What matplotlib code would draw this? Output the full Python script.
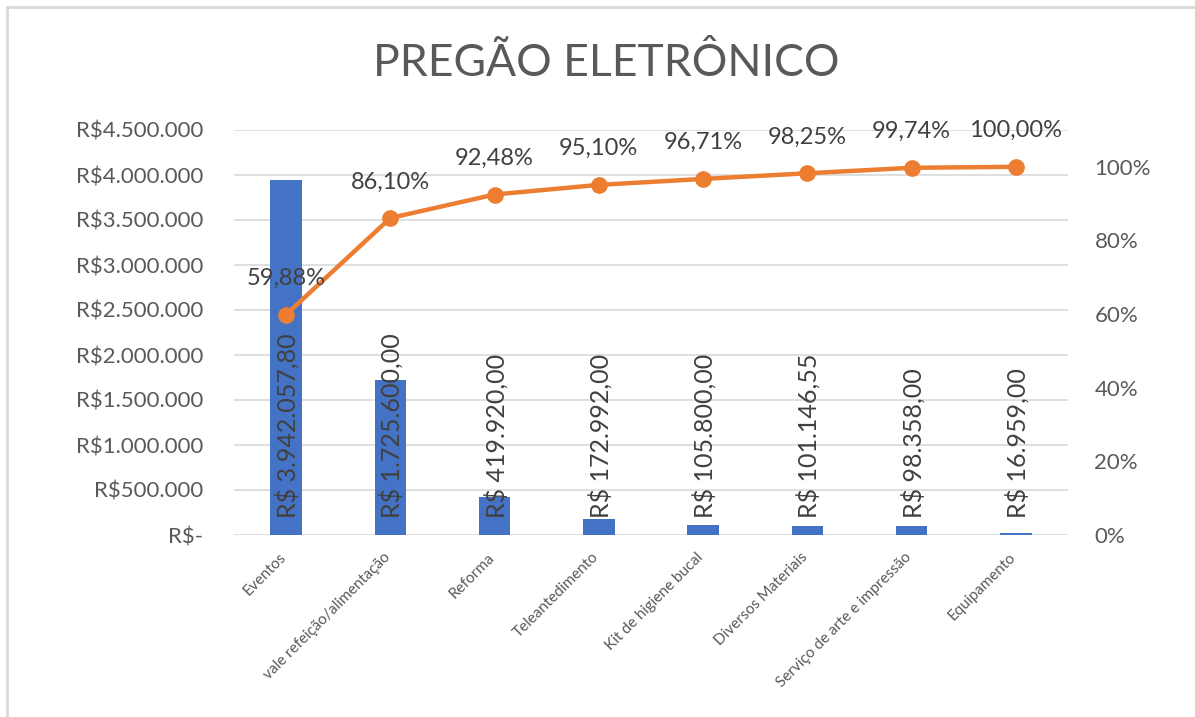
import matplotlib
matplotlib.use("Agg")
import matplotlib.pyplot as plt
from matplotlib.ticker import FuncFormatter, MultipleLocator
from matplotlib.lines import Line2D
from matplotlib.transforms import ScaledTranslation

categories = ["Eventos", "vale refeição/alimentação", "Reforma", "Teleantedimento",
              "Kit de higiene bucal", "Diversos Materiais", "Serviço de arte e impressão",
              "Equipamento"]
values = [3942057.80, 1725600.00, 419920.00, 172992.00, 105800.00, 101146.55, 98358.00, 16959.00]
value_labels = ["R$ 3.942.057,80", "R$ 1.725.600,00", "R$ 419.920,00", "R$ 172.992,00",
                "R$ 105.800,00", "R$ 101.146,55", "R$ 98.358,00", "R$ 16.959,00"]
cum_pct = [0.5988, 0.8610, 0.9248, 0.9510, 0.9671, 0.9825, 0.9974, 1.0000]
cum_labels = ["59,88%", "86,10%", "92,48%", "95,10%", "96,71%", "98,25%", "99,74%", "100,00%"]
title = "PREGÃO ELETRÔNICO"

FONT = "Lato"
plt.rcParams['font.family'] = [FONT, 'DejaVu Sans']

BAR = "#4472C4"
LINE = "#ED7D31"
TXT = "#595959"
LBL = "#404040"
GRID = "#D9D9D9"

fig = plt.figure(figsize=(11.95, 7.17), dpi=100)
ax = fig.add_axes([234/1195, 1-535/717, (1068-234)/1195, (535-130)/717])
ax2 = ax.twinx()

x = list(range(len(categories)))
ax.bar(x, values, width=0.3, color=BAR, zorder=2)
ax.set_xlim(-0.5, len(categories)-0.5)
ax.set_ylim(0, 4500000)
ax.yaxis.set_major_locator(MultipleLocator(500000))

def brl(v, pos):
    if v == 0:
        return "R$-"
    return "R$" + f"{int(round(v)):,}".replace(",", ".")
ax.yaxis.set_major_formatter(FuncFormatter(brl))
ax.grid(axis='y', color=GRID, lw=1.2, zorder=0)
ax.set_axisbelow(True)
for s in ax.spines.values():
    s.set_visible(False)
for s in ax2.spines.values():
    s.set_visible(False)
ax.tick_params(axis='y', length=0, pad=22, labelsize=16, labelcolor=TXT)
ax.set_xticks(x)
ax.set_xticklabels(categories, rotation=45, ha='right', va='top', rotation_mode='anchor',
                   fontsize=11, color=TXT)
ax.tick_params(axis='x', length=0, pad=11)
off = ScaledTranslation(-7/100, 0, fig.dpi_scale_trans)
for t in ax.get_xticklabels():
    t.set_transform(t.get_transform() + off)

for xi, lab in zip(x, value_labels):
    ax.annotate(lab, (xi, 0), xytext=(1, 12), textcoords='offset points',
                rotation=90, ha='center', va='bottom', fontsize=18, color=LBL, zorder=5)

ax2.plot(x, cum_pct, color=LINE, lw=3.2, marker='o', markersize=11, zorder=4)
ax2.set_ylim(0, 1.1)
ax2.set_yticks([0, 0.2, 0.4, 0.6, 0.8, 1.0])
ax2.yaxis.set_major_formatter(FuncFormatter(lambda v, p: f"{int(round(v*100))}%"))
ax2.tick_params(axis='y', length=0, pad=19, labelsize=16, labelcolor=TXT)
for xi, yv, lab in zip(x, cum_pct, cum_labels):
    ax2.annotate(lab, (xi, yv), xytext=(0, 26), textcoords='offset points',
                 ha='center', va='center', fontsize=17, color=LBL, zorder=6)

fig.text(606/1195, 1-63/717, title, ha='center', va='center', fontsize=32, color=TXT)

fig.add_artist(Line2D([7/1195, 7/1195], [0, 1-7/717], transform=fig.transFigure, color=GRID, lw=2))
fig.add_artist(Line2D([7/1195, 1], [1-7/717, 1-7/717], transform=fig.transFigure, color=GRID, lw=2))

fig.savefig("out.png", dpi=100)
